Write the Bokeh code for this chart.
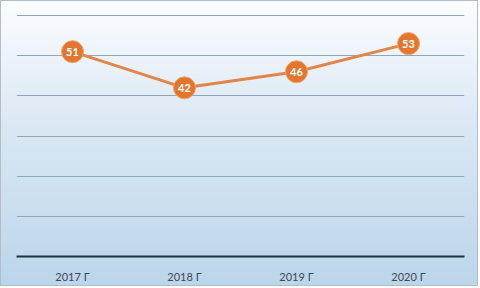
from bokeh.plotting import figure
from bokeh.models import Range1d, FactorRange, ColumnDataSource, SingleIntervalTicker
from bokeh.core.properties import value
from bokeh.embed import file_html
from bokeh.resources import INLINE

years = ["2017 Г", "2018 Г", "2019 Г", "2020 Г"]
counts = [51, 42, 46, 53]
labels = [str(v) for v in counts]

src = ColumnDataSource(dict(x=years, y=counts, t=labels))

p = figure(width=478, height=286, x_range=FactorRange(*years), y_range=Range1d(0, 60.25),
           output_backend="svg", toolbar_location=None,
           min_border_left=15, min_border_right=15, min_border_top=13, min_border_bottom=31)
p.background_fill_alpha = 0
p.border_fill_alpha = 0
p.outline_line_color = None
p.styles = {"background": "linear-gradient(to bottom, #fbfdff 0%, #dde9f4 40%, #bbd5eb 100%)",
            "border": "1px solid #b4bcc4"}

p.yaxis.visible = False
p.yaxis.ticker = SingleIntervalTicker(interval=10)
p.ygrid.ticker = SingleIntervalTicker(interval=10)
p.ygrid.grid_line_color = "#8ea7bc"
p.ygrid.grid_line_width = 1
p.xgrid.visible = False

ax = p.xaxis[0]
ax.axis_line_color = "#22303e"
ax.axis_line_width = 2
ax.major_tick_line_color = None
ax.minor_tick_line_color = None
ax.major_label_text_font = "Lato"
ax.major_label_text_font_size = "11px"
ax.major_label_text_color = "#3e4852"
ax.major_label_standoff = 7

p.line("x", "y", source=src, line_color="#e0864a", line_width=3)
p.scatter("x", "y", source=src, size=22, fill_color="#e2762e", line_color="#f3a56f", line_width=1)
p.text("x", "y", text="t", source=src, text_align="center", text_baseline="middle",
       text_color="white", text_font=value("Lato"), text_font_size="11px", text_font_style="bold")

open("out.html", "w").write(file_html(p, INLINE))
